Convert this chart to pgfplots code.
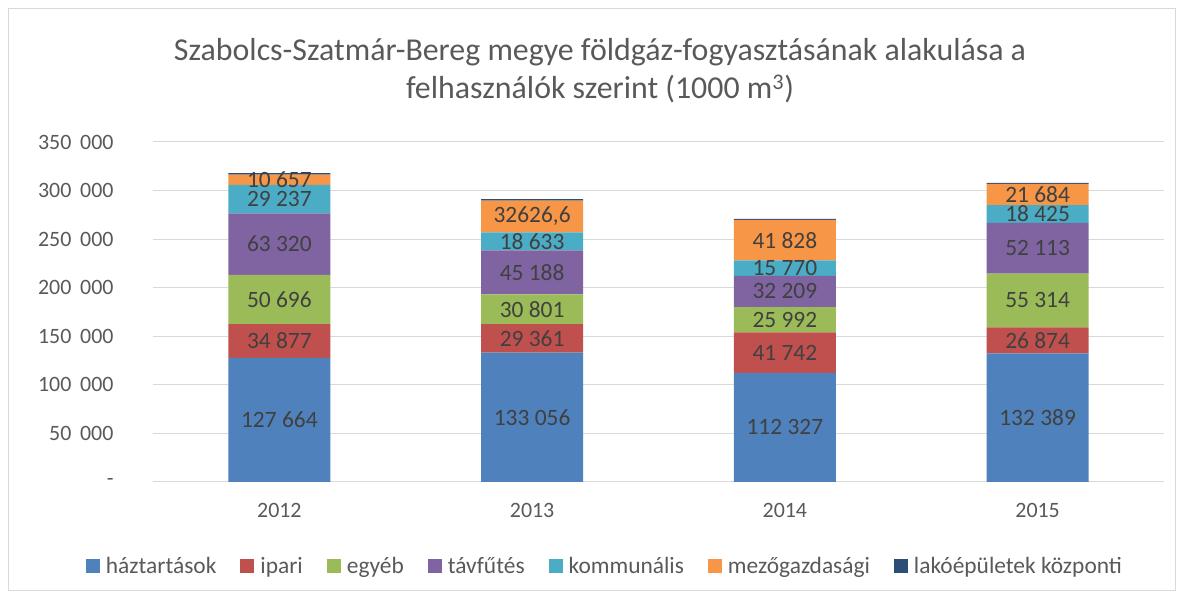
\documentclass[border=0pt]{standalone}
\usepackage{pgfplots}
\pgfplotsset{compat=1.18}
\usepackage{pgfplotstable}
\usetikzlibrary{calc}
\usepackage{fontspec}
\setmainfont{Carlito}
\definecolor{ch}{HTML}{4F81BD}
\definecolor{ci}{HTML}{C0504D}
\definecolor{ce}{HTML}{9BBB59}
\definecolor{ct}{HTML}{8064A2}
\definecolor{ck}{HTML}{4BACC6}
\definecolor{cm}{HTML}{F79646}
\definecolor{cl}{HTML}{2C4D75}
\definecolor{txt}{HTML}{595959}
\definecolor{lbl}{HTML}{404040}
\definecolor{grd}{HTML}{D9D9D9}
% values in 1000 m3 (thousands shown on the axis as raw units / 1000)
\pgfplotstableread[col sep=comma]{
x,h,hl,i,il,e,el,t,tl,k,kl,m,ml,l
0,127.664,127 664,34.877,34 877,50.696,50 696,63.320,63 320,29.237,29 237,10.657,10 657,1.5
1,133.056,133 056,29.361,29 361,30.801,30 801,45.188,45 188,18.633,18 633,32.6266,{32626,6},1.5
2,112.327,112 327,41.742,41 742,25.992,25 992,32.209,32 209,15.770,15 770,41.828,41 828,1.0
3,132.389,132 389,26.874,26 874,55.314,55 314,52.113,52 113,18.425,18 425,21.684,21 684,1.2
}\data
\pgfplotsset{lab/.style={nodes near coords,
    every node near coord/.append style={anchor=center, text=lbl,
    font=\fontsize{23.5}{26}\selectfont}}}
\newcommand{\tsp}{\hspace{0.4em}}
\begin{document}
\begin{tikzpicture}[x=1bp,y=1bp]
\begin{axis}[
  scale only axis, width=1011bp, height=340bp,
  ybar stacked, bar width=102bp,
  xmin=-0.5, xmax=3.5, ymin=0, ymax=350,
  xtick={0,1,2,3}, xticklabels={2012,2013,2014,2015},
  ytick={0,50,100,150,200,250,300,350},
  yticklabels={-\hspace{12bp},50\tsp000,100\tsp000,150\tsp000,200\tsp000,250\tsp000,300\tsp000,350\tsp000},
  major tick length=0pt,
  axis line style={draw=none},
  ymajorgrids, grid style={grd, line width=1bp},
  tick label style={text=txt, font=\fontsize{22}{26}\selectfont},
  yticklabel style={xshift=-36bp},
  xticklabel style={yshift=-18bp},
  point meta=explicit symbolic,
  clip=false,
  legend columns=7,
  legend style={at={(0.447,-0.247)}, anchor=center, draw=none, fill=none,
    text=txt, font=\fontsize{23.5}{26}\selectfont,
    /tikz/every odd column/.append style={column sep=4bp},
    /tikz/every even column/.append style={column sep=22bp}},
  legend image code/.code={\fill[#1] (0bp,-7bp) rectangle (14bp,7bp);},
]
\addplot[fill=ch, draw=none, lab] table[x=x, y=h, meta=hl]{\data};
\addplot[fill=ci, draw=none, lab] table[x=x, y=i, meta=il]{\data};
\addplot[fill=ce, draw=none, lab] table[x=x, y=e, meta=el]{\data};
\addplot[fill=ct, draw=none, lab] table[x=x, y=t, meta=tl]{\data};
\addplot[fill=ck, draw=none, lab] table[x=x, y=k, meta=kl]{\data};
\addplot[fill=cm, draw=none, lab] table[x=x, y=m, meta=ml]{\data};
\addplot[fill=cl, draw=none] table[x=x, y=l, meta=ml]{\data};
\legend{háztartások, ipari, egyéb, távfűtés, kommunális, mezőgazdasági, lakóépületek központi}
\coordinate (ll) at (rel axis cs:0,0);
\end{axis}
\draw[grd, line width=1bp] ($(ll)+(-144.5,-108.5)$) rectangle ($(ll)+(1022.5,473.5)$);
\node[text=txt, align=center, font=\fontsize{32}{38}\selectfont] at ($(ll)+(447,411)$)
  {Szabolcs-Szatmár-Bereg megye földgáz-fogyasztásának alakulása a\\felhasználók szerint (1000 m\textsuperscript{3})};
\pgfresetboundingbox
\useasboundingbox ($(ll)+(-153,-117)$) rectangle ($(ll)+(1031,482)$);
\end{tikzpicture}
\end{document}
